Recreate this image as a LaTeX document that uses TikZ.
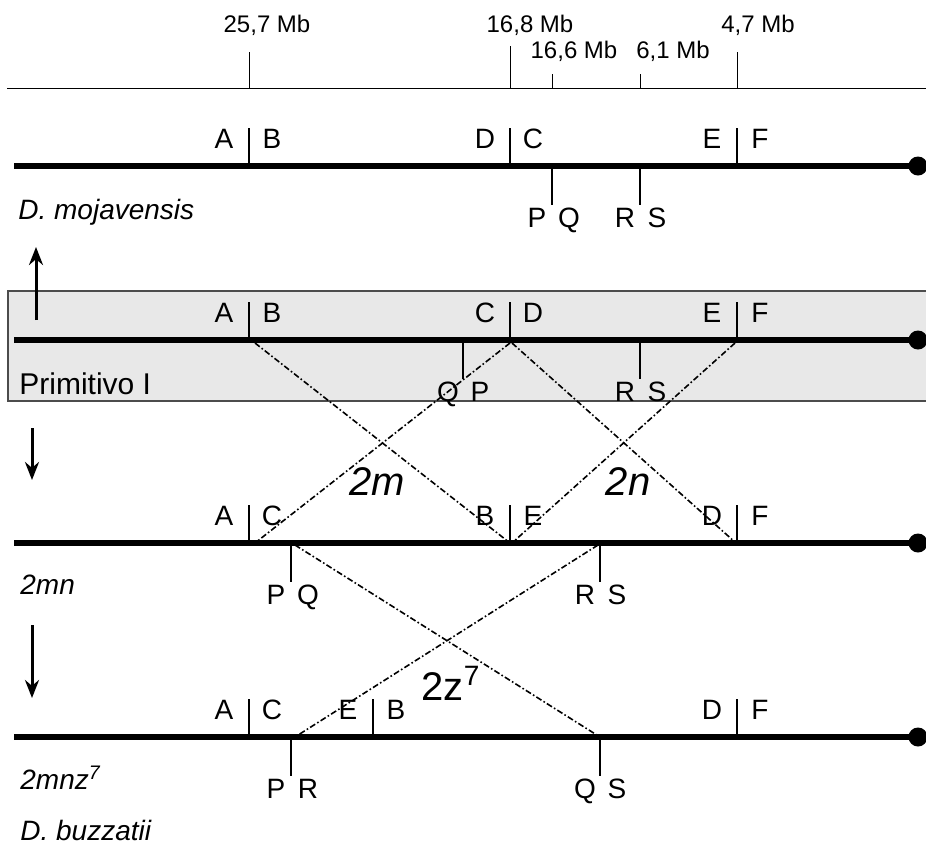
\documentclass[tikz,border=0pt]{standalone}
\usepackage{fontspec}
\setmainfont{Liberation Sans}
\usetikzlibrary{arrows.meta}
\begin{document}
\begin{tikzpicture}[x=0.5pt,y=-0.5pt,
  chrom/.style={line width=2.6pt},
  brk/.style={line width=1.3pt},
  rul/.style={line width=0.5pt},
  inv/.style={line width=0.8pt, dash pattern=on 3pt off 1.2pt on 0.8pt off 1.2pt},
  lab/.style={inner sep=0pt, anchor=base, font=\fontsize{14}{14}\selectfont},
  mb/.style={inner sep=0pt, font=\fontsize{12}{12}\selectfont},
  nm/.style={inner sep=0pt, anchor=west, font=\fontsize{14}{14}\selectfont\itshape},
  big/.style={inner sep=0pt, font=\fontsize{20}{20}\selectfont\itshape},
  arr/.style={line width=1.5pt, -{Stealth[length=9pt,width=7pt]}},
  cen/.style={circle, fill=black, inner sep=0pt, minimum size=9.5pt}]
\useasboundingbox (0,0) rectangle (926,843);
% gray box
\draw[fill=gray!18, draw=gray!60!black, line width=0.6pt] (8,291) rectangle (940,401);
% ruler
\draw[rul] (7,88) -- (926,88);
\draw[rul] (249,88) -- (249,52);
\draw[rul] (510,88) -- (510,46);
\draw[rul] (552,88) -- (552,74);
\draw[rul] (640,88) -- (640,74);
\draw[rul] (737,88) -- (737,52);
\node[mb] (m257) at (267,25) {25,7 Mb};
\node[mb] (m168) at (530,25) {16,8 Mb};
\node[mb] (m166) at (574,51) {16,6 Mb};
\node[mb] (m61) at (673,51) {6,1 Mb};
\node[mb] (m47) at (758,25) {4,7 Mb};
% chromosomes
\foreach \y/\n in {166/1,340/2,543/3,737/4}{
  \draw[chrom] (14,\y) -- (916,\y);
  \node[cen] (c\n) at (918,\y) {};
}
% breakpoint macros
\newcommand\bup[5]{% name, x, y, left, right
  \draw[brk] (#2,#3) -- (#2,#3-38);
  \node[lab] (#1l) at (#2-25,#3-18) {#4};
  \node[lab] (#1r) at (#2+23,#3-18) {#5};}
\newcommand\bdn[5]{%
  \draw[brk] (#2,#3) -- (#2,#3+39);
  \node[lab] (#1l) at (#2-15,#3+61) {#4};
  \node[lab] (#1r) at (#2+17,#3+61) {#5};}
% row 1
\bup{a1}{249}{166}{A}{B}
\bup{b1}{510}{166}{D}{C}
\bup{c1}{737}{166}{E}{F}
\bdn{d1}{552}{166}{P}{Q}
\bdn{e1}{640}{166}{R}{S}
% row 2
\bup{a2}{249}{340}{A}{B}
\bup{b2}{510}{340}{C}{D}
\bup{c2}{737}{340}{E}{F}
\bdn{d2}{463}{340}{Q}{P}
\bdn{e2}{640}{340}{R}{S}
% row 3
\bup{a3}{249}{543}{A}{C}
\bup{b3}{510}{543}{B}{E}
\bup{c3}{737}{543}{D}{F}
\bdn{d3}{291}{543}{P}{Q}
\bdn{e3}{600}{543}{R}{S}
% row 4
\bup{a4}{249}{737}{A}{C}
\bup{b4}{373}{737}{E}{B}
\bup{c4}{737}{737}{D}{F}
\bdn{d4}{291}{737}{P}{R}
\bdn{e4}{600}{737}{Q}{S}
% names
\node[nm] (mo) at (18,212) {D. mojavensis};
\node[inner sep=0pt, anchor=west, font=\fontsize{15}{15}\selectfont] (pr) at (19,384) {Primitivo I};
\node[nm] (mn) at (20,585) {2mn};
\node[nm] (mnz) at (20,778) {2mnz\textsuperscript{7}};
\node[nm] (bz) at (20,830) {D. buzzatii};
% arrows
\coordinate (u0) at (36,320); \coordinate (u1) at (36,247);
\draw[arr] (u0) -- (u1);
\coordinate (v0) at (32,428); \coordinate (v1) at (32,480);
\draw[arr] (v0) -- (v1);
\coordinate (w0) at (32,625); \coordinate (w1) at (32,698);
\draw[arr] (w0) -- (w1);
% inversion lines
\coordinate (p2B) at (255,343); \coordinate (p3B) at (510,543);
\coordinate (p2C) at (510,343); \coordinate (p3C) at (255,543);
\coordinate (p2D) at (512,343); \coordinate (p3D) at (736,543);
\coordinate (p2E) at (735,343); \coordinate (p3E) at (512,543);
\coordinate (p3Q) at (295,545); \coordinate (p4Q) at (600,737);
\coordinate (p3R) at (598,545); \coordinate (p4R) at (295,737);
\draw[inv] (p2B) -- (p3B);
\draw[inv] (p2C) -- (p3C);
\draw[inv] (p2D) -- (p3D);
\draw[inv] (p2E) -- (p3E);
\draw[inv] (p3Q) -- (p4Q);
\draw[inv] (p3R) -- (p4R);
\node[big] (t2m) at (377,482) {2m};
\node[big] (t2n) at (628,482) {2n};
\node[inner sep=0pt, font=\fontsize{20}{20}\selectfont] (t2z) at (451,683) {2z\textsuperscript{7}};
\end{tikzpicture}
\end{document}
